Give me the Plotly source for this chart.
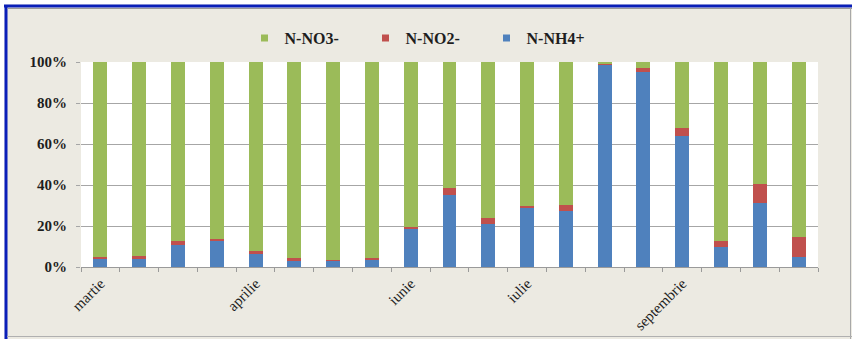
import plotly.graph_objects as go

# Sampling campaigns (only the first sample of each month is labelled)
categories = list(range(19))
month_labels = ["martie", "", "", "", "aprilie", "", "", "", "iunie", "", "", "iulie",
                "", "", "", "septembrie", "", "", ""]

# Share of each nitrogen form in total mineral nitrogen (%)
nh4 = [4.3, 4.0, 10.8, 13.0, 6.3, 3.0, 3.2, 3.6, 18.5, 35.0, 21.0, 28.6, 27.3,
       98.8, 95.2, 63.8, 9.6, 31.0, 5.0]
no2 = [0.8, 1.2, 1.8, 0.6, 1.5, 1.2, 0.4, 0.7, 1.2, 3.3, 3.0, 1.3, 2.9,
       0.3, 1.7, 3.8, 3.0, 9.5, 9.8]
no3 = [94.9, 94.8, 87.4, 86.4, 92.2, 95.8, 96.4, 95.7, 80.3, 61.7, 76.0, 70.1, 69.8,
       0.9, 3.1, 32.4, 87.4, 59.5, 85.2]

y_ticks = [0, 20, 40, 60, 80, 100]
y_tick_labels = ["0%", "20%", "40%", "60%", "80%", "100%"]

C_NO3 = "#9BBB59"
C_NO2 = "#C0504D"
C_NH4 = "#4F81BD"
FONT = "Liberation Serif"

W, H = 852, 339
ML, MR, MT, MB = 81, 34, 62, 72
PW, PH = W - ML - MR, H - MT - MB


def px(x):
    return (x - ML) / PW


def py(y):
    return (H - MB - y) / PH


fig = go.Figure()

# stacked bars, bottom to top
for name, vals, col in [("N-NH4+", nh4, C_NH4), ("N-NO2-", no2, C_NO2), ("N-NO3-", no3, C_NO3)]:
    fig.add_trace(go.Bar(x=categories, y=vals, name=name, marker=dict(color=col, line_width=0),
                         showlegend=False))

# legend entries with small square keys
for name, col in [("N-NO3-", C_NO3), ("N-NO2-", C_NO2), ("N-NH4+", C_NH4)]:
    fig.add_trace(go.Scatter(x=[None], y=[None], mode="markers", name=name,
                             marker=dict(symbol="square", size=7, color=col)))

shapes = [
    # white margin strips and window-style frame
    dict(type="rect", xref="paper", yref="paper", x0=px(0), x1=px(W), y0=py(0), y1=py(4.5),
         fillcolor="white", line_width=0),
    dict(type="rect", xref="paper", yref="paper", x0=px(0), x1=px(4.5), y0=py(0), y1=py(H),
         fillcolor="white", line_width=0),
    dict(type="line", xref="paper", yref="paper", x0=px(4), x1=px(W), y0=py(6), y1=py(6),
         line=dict(color="#0A1FB8", width=3)),
    dict(type="line", xref="paper", yref="paper", x0=px(6), x1=px(6), y0=py(5), y1=py(H),
         line=dict(color="#0A1FB8", width=3)),
    dict(type="line", xref="paper", yref="paper", x0=px(7.5), x1=px(W), y0=py(8.5), y1=py(8.5),
         line=dict(color="#9A9A9A", width=1)),
    dict(type="line", xref="paper", yref="paper", x0=px(850.5), x1=px(850.5), y0=py(8), y1=py(H),
         line=dict(color="#A8A8A8", width=1)),
    dict(type="line", xref="paper", yref="paper", x0=px(7), x1=px(W), y0=py(336.5), y1=py(336.5),
         line=dict(color="#B0B0B0", width=1)),
]

fig.update_layout(
    width=W, height=H,
    margin=dict(l=ML, r=MR, t=MT, b=MB, pad=0, autoexpand=False),
    barmode="stack", bargap=0.64,
    paper_bgcolor="#ECEAE2", plot_bgcolor="white",
    font=dict(family=FONT, size=14, color="#1E1E1E"),
    showlegend=True,
    legend=dict(orientation="h", xref="container", yref="container",
                x=0.5, xanchor="center", y=1 - 38 / H, yanchor="middle",
                font=dict(family=FONT, size=16, weight="bold", color="#1E1E1E"),
                bgcolor="rgba(0,0,0,0)", itemsizing="trace", itemwidth=30,
                entrywidth=76, entrywidthmode="pixels",
                traceorder="normal"),
    shapes=shapes,
)

fig.update_xaxes(
    range=[-0.5, 18.5], tickmode="array", tickvals=categories, ticktext=month_labels,
    tickangle=-45, ticks="", ticklabelstandoff=1, showgrid=False, zeroline=False,
    showline=True, linecolor="#9A9A9A", linewidth=1, automargin=False,
    tickfont=dict(family=FONT, size=15, color="#1E1E1E"),
    minor=dict(tickmode="linear", tick0=-0.5, dtick=1, ticks="outside", ticklen=4,
               tickcolor="#9A9A9A", showgrid=False),
)

fig.update_yaxes(
    range=[0, 100], tickmode="array", tickvals=y_ticks, ticktext=y_tick_labels,
    showgrid=True, gridcolor="#A6A6A6", gridwidth=1, zeroline=False, automargin=False,
    showline=False, ticks="outside", ticklen=4, tickcolor="#A6A6A6", ticklabelstandoff=6,
    tickfont=dict(family=FONT, size=15, weight="bold", color="#1E1E1E"),
)

fig.write_html("out.html")
